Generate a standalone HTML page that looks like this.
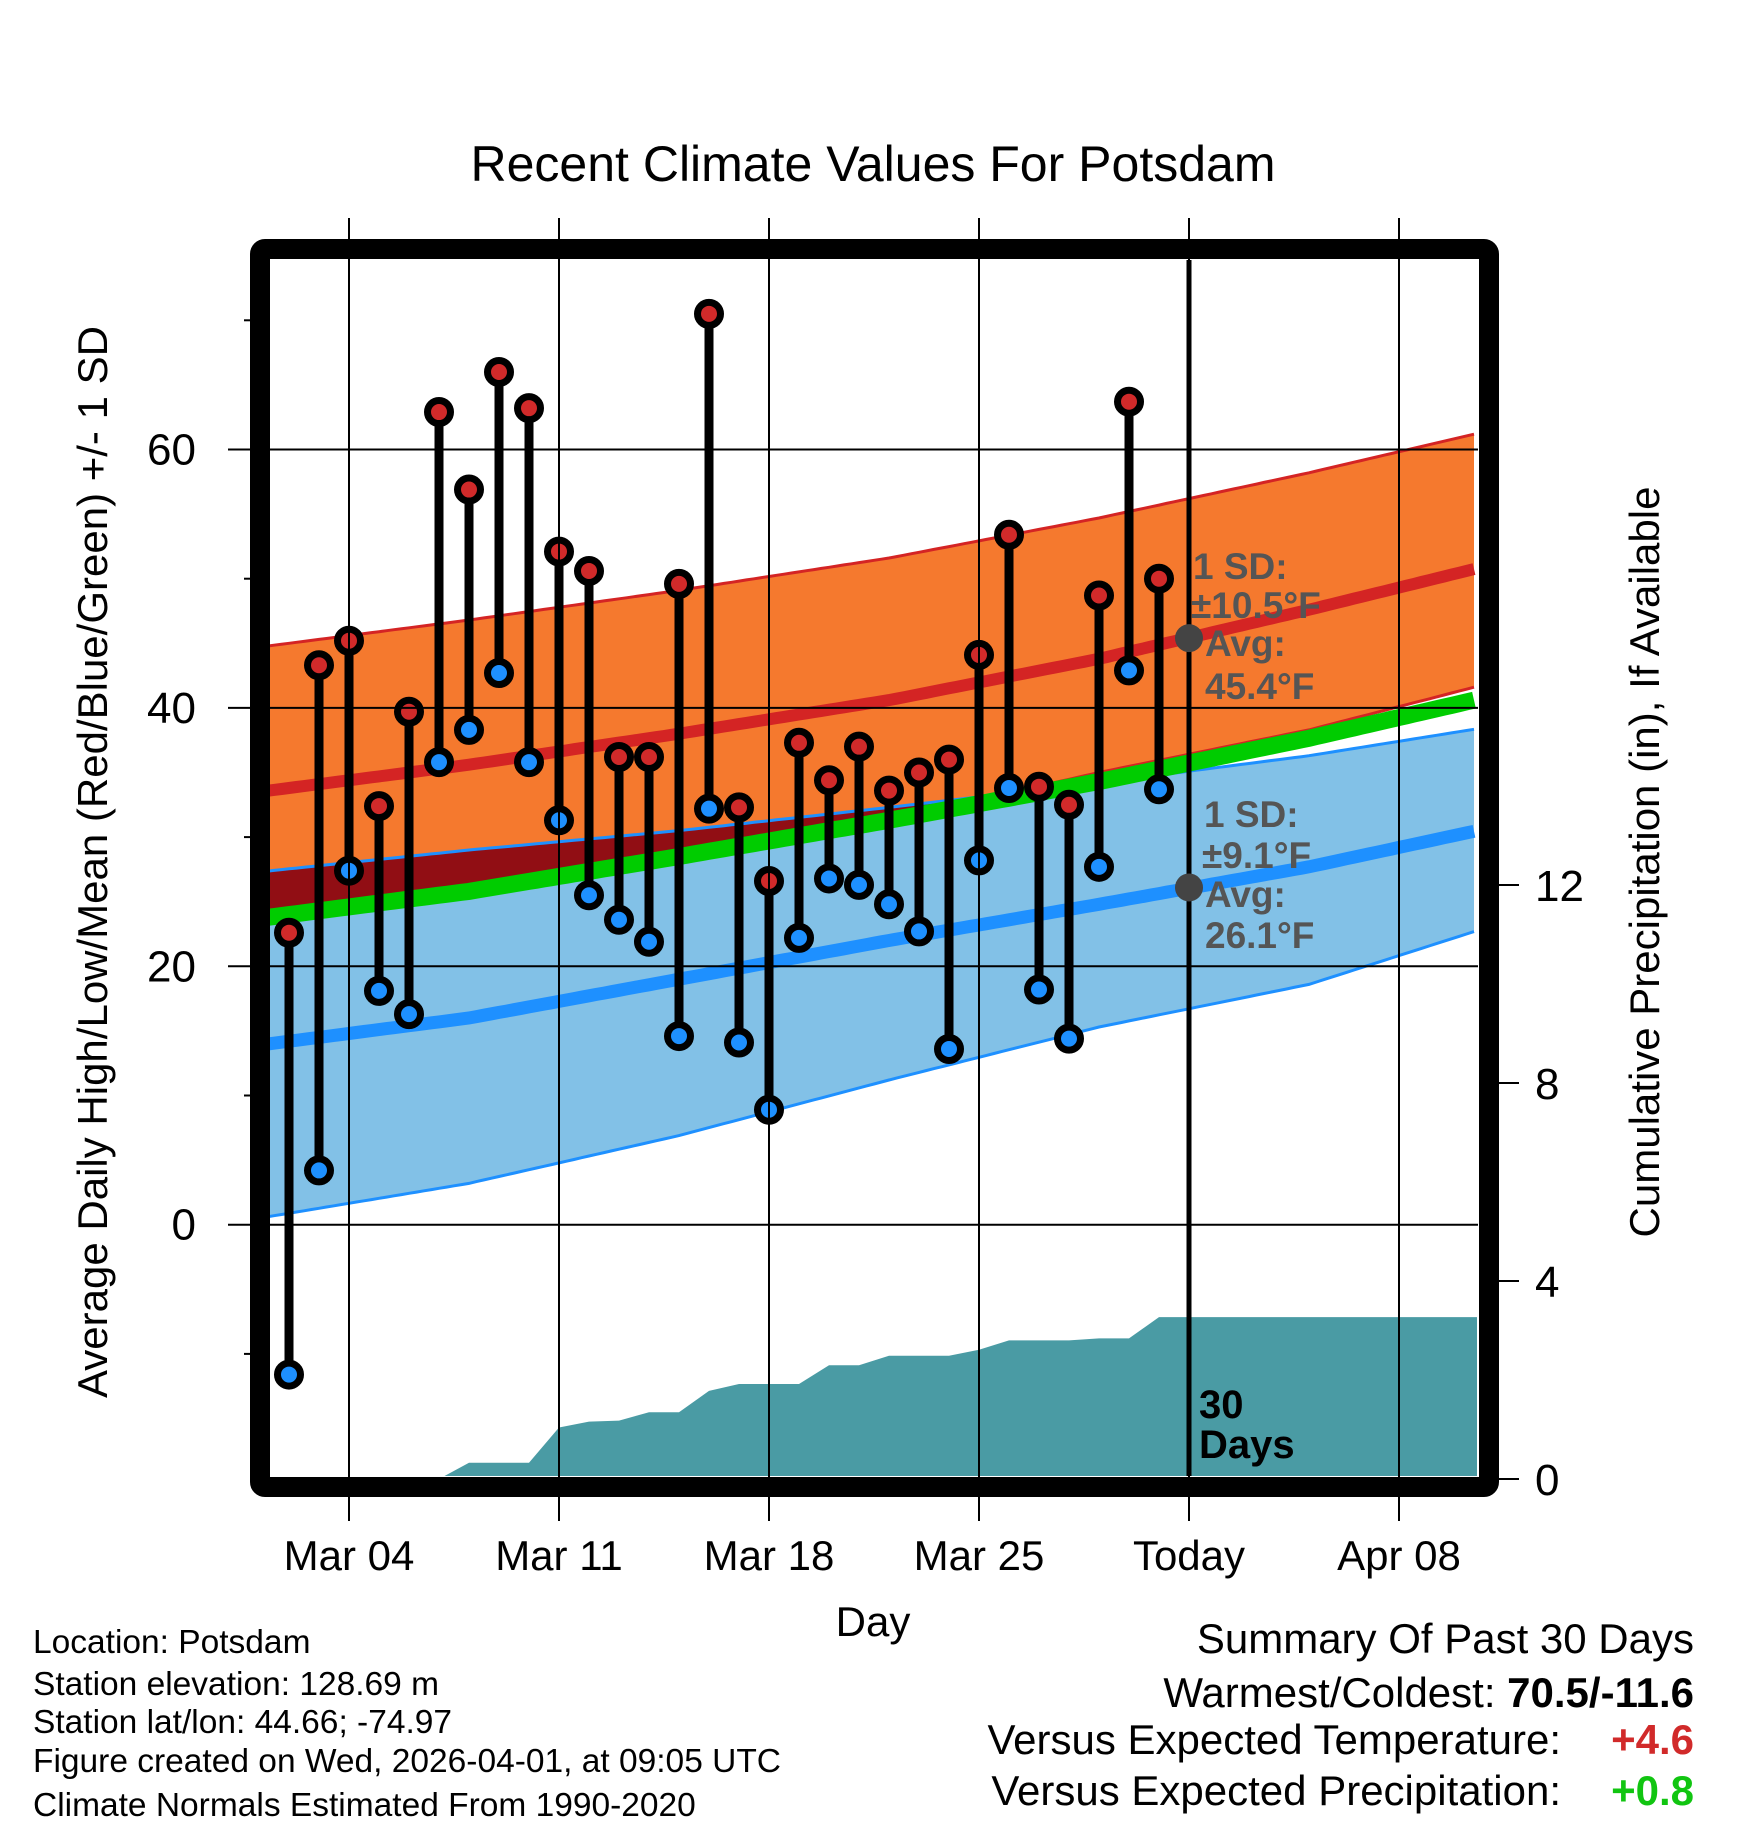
<!DOCTYPE html>
<html><head><meta charset="utf-8"><style>
html,body{margin:0;padding:0;background:#fff;}
svg{display:block;font-family:"Liberation Sans",Arial,sans-serif;}
</style></head><body>
<svg id="chart" width="1748" height="1828" viewBox="0 0 1748 1828" xmlns="http://www.w3.org/2000/svg">
<defs><clipPath id="plotclip"><rect x="270" y="260" width="1208" height="1216"/></clipPath></defs>
<rect x="0" y="0" width="1748" height="1828" fill="#fff"/>
<text x="873" y="181" font-size="50" text-anchor="middle">Recent Climate Values For Potsdam</text>
<g id="plot" clip-path="url(#plotclip)"></g>
<g id="axes"></g>
<text x="0" y="0" font-size="42" text-anchor="middle" transform="translate(107,862) rotate(-90)">Average Daily High/Low/Mean (Red/Blue/Green) +/- 1 SD</text>
<text x="0" y="0" font-size="42" text-anchor="middle" transform="translate(1659,862) rotate(-90)">Cumulative Precipitation (in), If Available</text>
<text x="873" y="1636" font-size="42" text-anchor="middle">Day</text>
<g font-size="33.5">
<text x="33" y="1653">Location: Potsdam</text>
<text x="33" y="1695">Station elevation: 128.69 m</text>
<text x="33" y="1733">Station lat/lon: 44.66; -74.97</text>
<text x="33" y="1772">Figure created on Wed, 2026-04-01, at 09:05 UTC</text>
<text x="33" y="1816">Climate Normals Estimated From 1990-2020</text>
</g>
<g font-size="42" text-anchor="end">
<text x="1694" y="1653">Summary Of Past 30 Days</text>
<text x="1694" y="1707">Warmest/Coldest: <tspan font-weight="bold">70.5/-11.6</tspan></text>
<text x="1561" y="1754">Versus Expected Temperature:</text>
<text x="1694" y="1754" font-weight="bold" fill="#d12a2a">+4.6</text>
<text x="1561" y="1805">Versus Expected Precipitation:</text>
<text x="1694" y="1805" font-weight="bold" fill="#11c511">+0.8</text>
</g>
</svg>
<script>
// ---- data ----
const obsDays = [2,3,4,5,6,7,8,9,10,11,12,13,14,15,16,17,18,19,20,21,22,23,24,25,26,27,28,29,30,31];
const highs = [22.6,43.3,45.2,32.4,39.7,62.9,56.9,66.0,63.2,52.1,50.6,36.2,36.2,49.6,70.5,32.3,26.6,37.3,34.4,37.0,33.6,35.0,36.0,44.1,53.4,33.9,32.5,48.7,63.7,50.0];
const lows = [-11.6,4.2,27.4,18.1,16.3,35.8,38.3,42.7,35.8,31.3,25.5,23.6,21.9,14.6,32.2,14.1,8.9,22.2,26.8,26.3,24.8,22.7,13.6,28.2,33.8,18.2,14.4,27.7,42.9,33.7];
const precip = [0,0,0,0,0,0,0.33,0.33,0.33,1.04,1.16,1.18,1.35,1.35,1.78,1.92,1.92,1.92,2.30,2.30,2.49,2.49,2.49,2.61,2.80,2.80,2.80,2.84,2.84,3.27];
const normDays = [1,8,15,22,29,36,43];
const highAvg = [33.5,35.6,38.0,40.6,43.8,47.6,51.6];
const highHi = [44.7,46.8,49.1,51.6,54.7,58.2,62.0];
const highLo = [23.5,25.5,28.0,31.3,35.0,38.3,42.5];
const lowAvg = [13.9,16.0,19.0,22.0,24.8,27.7,31.2];
const lowHi = [27.3,29.0,30.5,32.3,34.2,36.3,38.9];
const lowLo = [0.5,3.2,6.9,11.2,15.3,18.6,23.8];
const tempTicks = [0,20,40,60];
const tempMinor = [-10,10,30,50,70];
const precipTicks = [0,4,8,12];
const dateTicks = [4,11,18,25,32,39];
const dateLabels = ["Mar 04","Mar 11","Mar 18","Mar 25","Today","Apr 08"];
const todayDay = 32;
const todayHighAvg = 45.4, todayLowAvg = 26.1;

// ---- scales ----
const X = d => 349 + 30*(d-4);
const Y = t => 1224.7 - 12.92*t;
const P = p => 1479 - 49.5*p;
const NS = 'http://www.w3.org/2000/svg';
const plot = document.getElementById('plot');
const axes = document.getElementById('axes');
function mk(tag, attrs, parent){const e=document.createElementNS(NS,tag);for(const k in attrs)e.setAttribute(k,attrs[k]);parent.appendChild(e);return e;}
const x0 = 1.0, x1 = 41.6;
function interp(arr, d){
  for(let i=0;i<normDays.length-1;i++){ if(d<=normDays[i+1]){const f=(d-normDays[i])/(normDays[i+1]-normDays[i]);return arr[i]+f*(arr[i+1]-arr[i]);} }
  return arr[arr.length-1];
}
function samples(fn){const pts=[];for(let d=x0;d<=x1+0.001;d+=0.25)pts.push([X(d),Y(fn(d))]);return pts;}
function ptsStr(p){return p.map(q=>q[0].toFixed(1)+','+q[1].toFixed(1)).join(' ');}
function band(loArr, hiArr){const up=samples(d=>interp(hiArr,d));const dn=samples(d=>interp(loArr,d)).reverse();return ptsStr(up.concat(dn));}

let e = mk('polygon',{points:band(highLo,highHi),fill:'#f5792e'},plot);
 
e = mk('polygon',{points:band(lowLo,lowHi),fill:'#82c1e7'},plot);
 
(function(){
  const up=[],dn=[];
  for(let d=x0; d<=x1+0.001; d+=0.25){
    const top=interp(lowHi,d), bot=Math.max(interp(highLo,d),(interp(highAvg,d)+interp(lowAvg,d))/2);
    if(top>bot){up.push([X(d),Y(top)]);dn.push([X(d),Y(bot)]);}
  }
  if(up.length){const o=mk('polygon',{points:ptsStr(up.concat(dn.reverse())),fill:'#910e14'},plot);
   }
})();
e = mk('polyline',{points:ptsStr(samples(d=>interp(highHi,d))),fill:'none',stroke:'#d42424','stroke-width':3},plot);
 
e = mk('polyline',{points:ptsStr(samples(d=>interp(highLo,d))),fill:'none',stroke:'#d42424','stroke-width':3},plot);
 
e = mk('polyline',{points:ptsStr(samples(d=>interp(lowHi,d))),fill:'none',stroke:'#1e90ff','stroke-width':3},plot);
 
e = mk('polyline',{points:ptsStr(samples(d=>interp(lowLo,d))),fill:'none',stroke:'#1e90ff','stroke-width':3},plot);
 
e = mk('polyline',{points:ptsStr(samples(d=>(interp(highAvg,d)+interp(lowAvg,d))/2)),fill:'none',stroke:'#00cc00','stroke-width':17},plot);
 
e = mk('polyline',{points:ptsStr(samples(d=>interp(highAvg,d))),fill:'none',stroke:'#d42424','stroke-width':12},plot);
 
e = mk('polyline',{points:ptsStr(samples(d=>interp(lowAvg,d))),fill:'none',stroke:'#1e90ff','stroke-width':13},plot);
 

tempTicks.forEach(t=>{
  const g=mk('line',{x1:228,x2:1478,y1:Y(t),y2:Y(t),stroke:'#000','stroke-width':2},axes);
   
  const l=mk('text',{x:196,y:Y(t)+15,'font-size':44,'text-anchor':'end'},axes); l.textContent=t;
   
});
tempMinor.forEach(t=>{
  const g=mk('line',{x1:244,x2:252,y1:Y(t),y2:Y(t),stroke:'#000','stroke-width':2},axes);
   
});
dateTicks.forEach((d,i)=>{
  if(d!==todayDay){
    const g=mk('line',{x1:X(d),x2:X(d),y1:218,y2:1521,stroke:'#000','stroke-width':2},axes);
     
  }
  const l=mk('text',{x:X(d),y:1570,'font-size':42,'text-anchor':'middle'},axes); l.textContent=dateLabels[i];
   
});

(function(){
  const pts=[[X(x0),P(0)],[X(obsDays[0]),P(0)]];
  obsDays.forEach((d,i)=>pts.push([X(d),P(precip[i])]));
  pts.push([X(x1),P(precip[precip.length-1])]); pts.push([X(x1),P(0)+10]); pts.push([X(x0),P(0)+10]);
  const a=mk('polygon',{points:ptsStr(pts),fill:'#4a9ba4'},plot);
   
})();

e = mk('line',{x1:X(todayDay),x2:X(todayDay),y1:218,y2:1521,stroke:'#000','stroke-width':2},axes);
 
e = mk('line',{x1:X(todayDay),x2:X(todayDay),y1:260,y2:1476,stroke:'#000','stroke-width':5},axes);
 

obsDays.forEach((d,i)=>{
  const s=mk('line',{x1:X(d),x2:X(d),y1:Y(highs[i]),y2:Y(lows[i]),stroke:'#000','stroke-width':9},plot);
   
});
obsDays.forEach((d,i)=>{
  const h=mk('circle',{cx:X(d),cy:Y(highs[i]),r:11.5,fill:'#d12a2a',stroke:'#000','stroke-width':7},plot);
   
  const l=mk('circle',{cx:X(d),cy:Y(lows[i]),r:11.5,fill:'#1e90ff',stroke:'#000','stroke-width':7},plot);
   
});

e = mk('circle',{cx:X(todayDay),cy:Y(todayHighAvg),r:14,fill:'#444'},axes);
 
e = mk('circle',{cx:X(todayDay),cy:Y(todayLowAvg),r:14,fill:'#444'},axes);
 
const ann=[['1 SD:',1193,579],['±10.5°F',1191,618],['Avg:',1205,656],['45.4°F',1205,699],['1 SD:',1204,827],['±9.1°F',1202,868],['Avg:',1205,907],['26.1°F',1205,948]];
ann.forEach(a=>{
  const t=mk('text',{x:a[1],y:a[2],'font-size':37,'font-weight':'bold',fill:'#555'},axes); t.textContent=a[0];
   
});
e = mk('text',{x:1199,y:1418,'font-size':40,'font-weight':'bold',fill:'#000'},axes); e.textContent='30';
 
e = mk('text',{x:1199,y:1458,'font-size':40,'font-weight':'bold',fill:'#000'},axes); e.textContent='Days';
 

e = mk('rect',{x:260,y:249,width:1229,height:1238,rx:5,fill:'none',stroke:'#000','stroke-width':20},axes);
 
precipTicks.forEach(p=>{
  const g=mk('line',{x1:1499,x2:1519,y1:P(p),y2:P(p),stroke:'#000','stroke-width':2},axes);
   
  const l=mk('text',{x:1535,y:P(p)+16,'font-size':44},axes); l.textContent=p;
   
});
</script>
</body></html>
